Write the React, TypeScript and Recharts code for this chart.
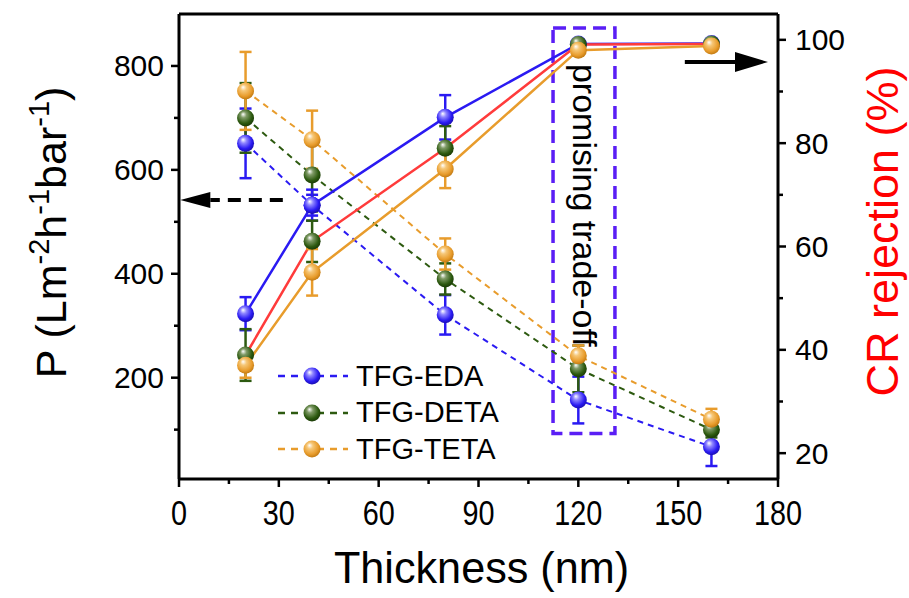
import React from 'react';
import {
  ComposedChart,
  Line,
  XAxis,
  YAxis,
  ErrorBar,
  ReferenceLine,
  ReferenceArea,
  Label,
  Legend,
} from 'recharts';

// thickness (nm)
const thickness = [20, 40, 80, 120, 160];

// permeance P (L m-2 h-1 bar-1), left axis
const pEDA = [651, 532, 321, 157, 67];
const pEDAErr = [67, 20, 38, 45, 37];
const pDETA = [700, 590, 390, 217, 100];
const pDETAErr = [67, 70, 30, 45, 15];
const pTETA = [752, 658, 438, 242, 120];
const pTETAErr = [75, 56, 30, 20, 20];

// CR rejection (%), right axis
const crEDA = [47, 68, 85, 99.2, 99.3];
const crEDAErr = [3.2, 3, 4.3, 0.8, 0.5];
const crDETA = [39, 61, 79, 99.1, 99.2];
const crDETAErr = [5, 4, 4.3, 0.8, 0.5];
const crTETA = [37, 55, 75, 98, 98.8];
const crTETAErr = [2.4, 4.5, 3.7, 0.8, 0.5];

const seriesNames = ['TFG-EDA', 'TFG-DETA', 'TFG-TETA'];

const xTicks = [0, 15, 30, 45, 60, 75, 90, 105, 120, 135, 150, 165, 180];
const leftTicks = [100, 200, 300, 400, 500, 600, 700, 800];
const rightTicks = [20, 30, 40, 50, 60, 70, 80, 90, 100];

const FONT = '"Liberation Sans", Arial, sans-serif';
const BLUE = '#2a1af2';
const GREEN = '#2d5a10';
const ORANGE = '#e89c2c';
const RED = '#ff3b3b';

const data = thickness.map((t, i) => ({
  t,
  pEDA: pEDA[i],
  pEDAErr: pEDAErr[i],
  pDETA: pDETA[i],
  pDETAErr: pDETAErr[i],
  pTETA: pTETA[i],
  pTETAErr: pTETAErr[i],
  crEDA: crEDA[i],
  crEDAErr: crEDAErr[i],
  crDETA: crDETA[i],
  crDETAErr: crDETAErr[i],
  crTETA: crTETA[i],
  crTETAErr: crTETAErr[i],
}));

const sphere = (id: string) => (props: any) => {
  const { cx, cy, index } = props;
  if (cx == null || cy == null) return <g key={`${id}-${index}`} />;
  return <circle key={`${id}-${index}`} cx={cx} cy={cy} r={8.5} fill={`url(#sph-${id})`} />;
};

const LeftTick = (props: any) => {
  const { x, y, payload } = props;
  const major = payload.value % 200 === 0;
  return (
    <g>
      <line x1={x} x2={x - (major ? 8 : 5)} y1={y} y2={y} stroke="#000" strokeWidth={2.5} />
      {major && (
        <text x={x - 15} y={y} textAnchor="end" dominantBaseline="central" fontSize={30} fontFamily={FONT} fill="#000">
          {payload.value}
        </text>
      )}
    </g>
  );
};

const RightTick = (props: any) => {
  const { x, y, payload } = props;
  const major = payload.value % 20 === 0;
  return (
    <g>
      <line x1={x} x2={x + (major ? 8 : 5)} y1={y} y2={y} stroke="#000" strokeWidth={2.5} />
      {major && (
        <text x={x + 17} y={y} textAnchor="start" dominantBaseline="central" fontSize={30} fontFamily={FONT} fill="#000">
          {payload.value}
        </text>
      )}
    </g>
  );
};

const BottomTick = (props: any) => {
  const { x, y, payload } = props;
  const major = payload.value % 30 === 0;
  return (
    <g>
      <line x1={x} x2={x} y1={y} y2={y + (major ? 8 : 5)} stroke="#000" strokeWidth={2.5} />
      {major && (
        <text
          transform={`translate(${x},${y + 46}) scale(0.8,1)`}
          textAnchor="middle"
          fontSize={36}
          fontFamily={FONT}
          fill="#000"
        >
          {payload.value}
        </text>
      )}
    </g>
  );
};

const XTitle = (props: any) => {
  const { x, y, width } = props.viewBox;
  return (
    <text
      transform={`translate(${x + width / 2 + 3},${y + 104}) scale(0.96,1)`}
      textAnchor="middle"
      fontSize={45}
      fontFamily={FONT}
      fill="#000"
    >
      Thickness (nm)
    </text>
  );
};

const LeftTitle = (props: any) => {
  const { y, height } = props.viewBox;
  return (
    <text
      transform={`translate(66,${y + height / 2 - 14}) rotate(-90)`}
      textAnchor="middle"
      fontSize={43}
      fontFamily={FONT}
      fill="#000"
    >
      P (Lm
      <tspan dy={-17} fontSize={29}>-2</tspan>
      <tspan dy={17}>h</tspan>
      <tspan dy={-17} fontSize={29}>-1</tspan>
      <tspan dy={17}>bar</tspan>
      <tspan dy={-17} fontSize={29}>-1</tspan>
      <tspan dy={17}>)</tspan>
    </text>
  );
};

const RightTitle = (props: any) => {
  const { x, y, height } = props.viewBox;
  return (
    <text
      transform={`translate(${x + 120},${y + height / 2 - 15}) rotate(-90)`}
      textAnchor="middle"
      fontSize={45}
      fontFamily={FONT}
      fill="#ff0000"
    >
      CR rejection (%)
    </text>
  );
};

const BoxLabel = (props: any) => {
  const { x, y, width } = props.viewBox;
  return (
    <text
      transform={`translate(${x + width / 2 - 11},${y + 36}) rotate(90)`}
      textAnchor="start"
      fontSize={34}
      fontFamily={FONT}
      fill="#000"
    >
      promising trade-off
    </text>
  );
};

const makeArrow = (dashed: boolean, head: number, half: number) => (props: any) => {
  const { x1, y1, x2, y2 } = props;
  const dir = x2 > x1 ? 1 : -1;
  const baseX = x2 - dir * head;
  return (
    <g>
      <line
        x1={x1}
        y1={y1}
        x2={baseX}
        y2={y2}
        stroke="#000"
        strokeWidth={4}
        strokeDasharray={dashed ? '13 8' : undefined}
      />
      <polygon points={`${x2},${y2} ${baseX},${y2 - half} ${baseX},${y2 + half}`} fill="#000" />
    </g>
  );
};

const legendColors = [
  { line: BLUE, id: 'b' },
  { line: GREEN, id: 'g' },
  { line: ORANGE, id: 'o' },
];

const LegendBox = () => (
  <div style={{ fontFamily: FONT }}>
    {seriesNames.map((name, i) => (
      <div key={name} style={{ display: 'flex', alignItems: 'center', height: 36.5 }}>
        <svg width={76} height={22} style={{ display: 'block' }}>
          <line x1={2} x2={72} y1={11} y2={11} stroke={legendColors[i].line} strokeWidth={2.5} strokeDasharray="7 6" />
          <circle cx={36} cy={11} r={8.5} fill={`url(#sph-${legendColors[i].id})`} />
        </svg>
        <span style={{ fontSize: 29, marginLeft: 4, color: '#000', lineHeight: 1 }}>{name}</span>
      </div>
    ))}
  </div>
);

const Grad = ({ id, light, base, dark }: { id: string; light: string; base: string; dark: string }) => (
  <radialGradient id={`sph-${id}`} cx="45%" cy="40%" r="60%" fx="35%" fy="28%">
    <stop offset="0%" stopColor="#ffffff" />
    <stop offset="30%" stopColor={light} />
    <stop offset="75%" stopColor={base} />
    <stop offset="100%" stopColor={dark} />
  </radialGradient>
);

export default function App() {
  return (
    <div style={{ position: 'absolute', left: 0, top: 0, width: 909, height: 598, background: '#fff' }}>
      <ComposedChart width={909} height={598} data={data} margin={{ top: 14, right: 0, left: 0, bottom: 0 }}>
        <defs>
          <Grad id="b" light="#8f86ff" base="#2a1af2" dark="#1a0fb0" />
          <Grad id="g" light="#7f9a66" base="#2d5a10" dark="#1a3a06" />
          <Grad id="o" light="#f6c777" base="#e89c2c" dark="#c27a12" />
        </defs>
        <XAxis
          type="number"
          dataKey="t"
          domain={[0, 180]}
          ticks={xTicks}
          interval={0}
          height={119}
          axisLine={{ stroke: '#000', strokeWidth: 3 }}
          tickLine={false}
          tickSize={0}
          tickMargin={0}
          tick={<BottomTick />}
        >
          <Label content={XTitle} />
        </XAxis>
        <YAxis
          yAxisId="p"
          type="number"
          domain={[5, 900]}
          ticks={leftTicks}
          interval={0}
          width={179}
          axisLine={{ stroke: '#000', strokeWidth: 3 }}
          tickLine={false}
          tickSize={0}
          tickMargin={0}
          tick={<LeftTick />}
        >
          <Label content={LeftTitle} />
        </YAxis>
        <YAxis
          yAxisId="cr"
          orientation="right"
          type="number"
          domain={[15, 105]}
          ticks={rightTicks}
          interval={0}
          width={131}
          axisLine={{ stroke: '#000', strokeWidth: 3 }}
          tickLine={false}
          tickSize={0}
          tickMargin={0}
          tick={<RightTick />}
        >
          <Label content={RightTitle} />
        </YAxis>
        <ReferenceLine yAxisId="p" y={900} stroke="#000" strokeWidth={3} />

        <ReferenceArea
          yAxisId="cr"
          x1={112.4}
          x2={131}
          y1={23.8}
          y2={102.3}
          fill="none"
          fillOpacity={0}
          stroke="#5a1ef5"
          strokeWidth={3.5}
          strokeDasharray="13 7"
          label={<BoxLabel />}
        />

        <Line yAxisId="p" dataKey="pEDA" stroke={BLUE} strokeWidth={2} strokeDasharray="6 5" dot={sphere('b')} isAnimationActive={false}>
          <ErrorBar dataKey="pEDAErr" width={6} stroke={BLUE} strokeWidth={2.5} direction="y" />
        </Line>
        <Line yAxisId="p" dataKey="pDETA" stroke={GREEN} strokeWidth={2} strokeDasharray="6 5" dot={sphere('g')} isAnimationActive={false}>
          <ErrorBar dataKey="pDETAErr" width={6} stroke={GREEN} strokeWidth={2.5} direction="y" />
        </Line>
        <Line yAxisId="p" dataKey="pTETA" stroke={ORANGE} strokeWidth={2} strokeDasharray="6 5" dot={sphere('o')} isAnimationActive={false}>
          <ErrorBar dataKey="pTETAErr" width={6} stroke={ORANGE} strokeWidth={2.5} direction="y" />
        </Line>

        <Line yAxisId="cr" dataKey="crEDA" stroke={BLUE} strokeWidth={2.5} dot={sphere('b')} isAnimationActive={false}>
          <ErrorBar dataKey="crEDAErr" width={6} stroke={BLUE} strokeWidth={2.5} direction="y" />
        </Line>
        <Line yAxisId="cr" dataKey="crDETA" stroke={RED} strokeWidth={2.5} dot={sphere('g')} isAnimationActive={false}>
          <ErrorBar dataKey="crDETAErr" width={6} stroke={GREEN} strokeWidth={2.5} direction="y" />
        </Line>
        <Line yAxisId="cr" dataKey="crTETA" stroke={ORANGE} strokeWidth={2.5} dot={sphere('o')} isAnimationActive={false}>
          <ErrorBar dataKey="crTETAErr" width={6} stroke={ORANGE} strokeWidth={2.5} direction="y" />
        </Line>

        <ReferenceLine
          yAxisId="p"
          segment={[{ x: 31.2, y: 542 }, { x: 0.4, y: 542 }]}
          shape={makeArrow(true, 30, 8)}
        />
        <ReferenceLine
          yAxisId="cr"
          segment={[{ x: 152, y: 95.7 }, { x: 177, y: 95.7 }]}
          shape={makeArrow(false, 33, 10)}
        />

        <Legend
          layout="vertical"
          align="center"
          verticalAlign="middle"
          content={<LegendBox />}
          wrapperStyle={{ position: 'absolute', left: 276, top: 358, width: 240, height: 110 }}
        />
      </ComposedChart>
    </div>
  );
}
